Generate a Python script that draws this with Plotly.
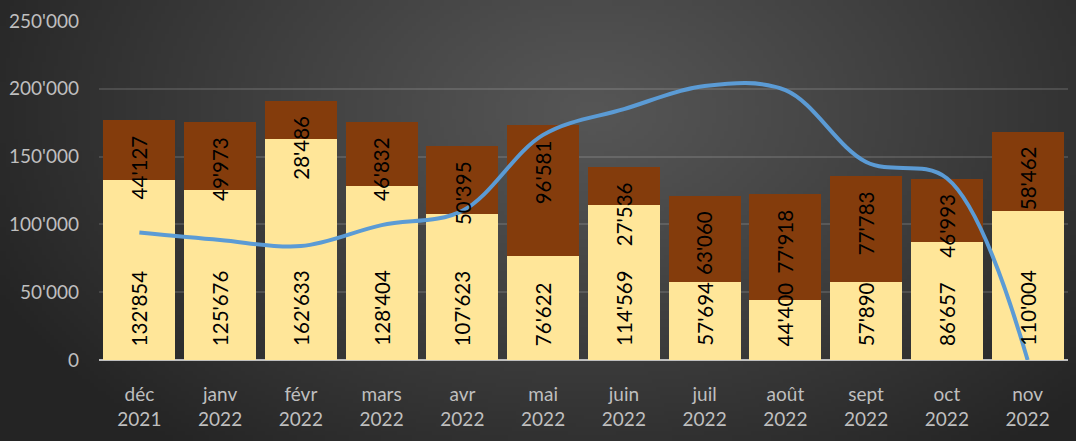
import base64, struct, zlib
import numpy as np
import plotly.graph_objects as go

# ---------------- data ----------------
months = ["déc", "janv", "févr", "mars", "avr", "mai", "juin", "juil", "août", "sept", "oct", "nov"]
years = ["2021", "2022", "2022", "2022", "2022", "2022", "2022", "2022", "2022", "2022", "2022", "2022"]
base_values = [132854, 125676, 162633, 128404, 107623, 76622, 114569, 57694, 44400, 57890, 86657, 110004]
top_values = [44127, 49973, 28486, 46832, 50395, 96581, 27536, 63060, 77918, 77783, 46993, 58462]
line_values = [94000, 88500, 84000, 99500, 110000, 166000, 185000, 202000, 199000, 146000, 134000, 0]
y_ticks = [0, 50000, 100000, 150000, 200000, 250000]

categories = [f"{m}<br>{y}" for m, y in zip(months, years)]

def fmt(v):
    return f"{v:,}".replace(",", "'")

# ---------------- layout geometry ----------------
W, H = 1076, 441
ML, MR, MT, MB = 99, 8, 21, 81
PW, PH = W - ML - MR, H - MT - MB

# ---------------- background gradient image ----------------
def make_png(w, h, pixels):
    raw = b"".join(b"\x00" + pixels[r].tobytes() for r in range(h))
    def chunk(t, d):
        c = struct.pack(">I", len(d)) + t + d
        return c + struct.pack(">I", zlib.crc32(t + d) & 0xffffffff)
    return (b"\x89PNG\r\n\x1a\n" + chunk(b"IHDR", struct.pack(">IIBBBBB", w, h, 8, 2, 0, 0, 0))
            + chunk(b"IDAT", zlib.compress(raw, 9)) + chunk(b"IEND", b""))

gw, gh = 270, 110
xx, yy = np.meshgrid(np.linspace(0, 1, gw), np.linspace(0, 1, gh))
r = np.sqrt(((xx - 0.55) / 0.62) ** 2 + ((yy - 0.25) / 1.0) ** 2)
r = np.clip(r, 0, 1)
c_in, c_out = 86, 36
val = (c_in + (c_out - c_in) * r ** 1.1).astype(np.uint8)
pix = np.stack([val, val, val], axis=-1)
bg_src = "data:image/png;base64," + base64.b64encode(make_png(gw, gh, pix)).decode()

# ---------------- figure ----------------
fig = go.Figure()
fig.add_trace(go.Bar(x=categories, y=base_values, marker=dict(color="#FFE699", line=dict(width=0)),
                     hoverinfo="skip"))
fig.add_trace(go.Bar(x=categories, y=top_values, marker=dict(color="#843C0C", line=dict(width=0)),
                     hoverinfo="skip"))
fig.add_trace(go.Scatter(x=categories, y=line_values, mode="lines",
                         line=dict(color="#5B9BD5", width=4, shape="spline", smoothing=1.0),
                         hoverinfo="skip"))

annotations = []
lab_font = dict(family="Lato, 'Open Sans', sans-serif", size=20.5, color="#000000")
for c, b, t in zip(categories, base_values, top_values):
    annotations.append(dict(x=c, y=0, xref="x", yref="y", text=fmt(b), textangle=-90,
                            showarrow=False, yanchor="bottom", xanchor="center", yshift=13,
                            borderpad=0, font=lab_font))
    annotations.append(dict(x=c, y=b + t, xref="x", yref="y", text=fmt(t), textangle=-90,
                            showarrow=False, yanchor="top", xanchor="center", yshift=-14,
                            borderpad=0, font=lab_font))

fig.update_layout(
    width=W, height=H,
    margin=dict(l=ML, r=MR, t=MT, b=MB),
    paper_bgcolor="#333333",
    plot_bgcolor="rgba(0,0,0,0)",
    barmode="stack",
    bargap=0.11,
    showlegend=False,
    separators=".'",
    font=dict(family="Lato, 'Open Sans', sans-serif", size=19, color="#BFBFBF"),
    annotations=annotations,
    images=[dict(source=bg_src, xref="paper", yref="paper",
                 x=-ML / PW, y=1 + MT / PH, sizex=W / PW, sizey=H / PH,
                 sizing="stretch", layer="below", xanchor="left", yanchor="top")],
    xaxis=dict(type="category", showgrid=False, showline=False, ticks="",
               tickfont=dict(size=19, color="#BFBFBF"), ticklabelstandoff=21),
    yaxis=dict(range=[0, 250000], tickvals=y_ticks, tickformat=",d",
               showgrid=True, gridcolor="rgba(255,255,255,0.13)", gridwidth=1.5,
               zeroline=True, zerolinecolor="#BFBFBF", zerolinewidth=1.5,
               showline=False, ticks="", tickfont=dict(size=19, color="#BFBFBF"),
               ticklabelstandoff=19),
)

fig.write_html("out.html", config={"displayModeBar": False},
               post_script="document.body.style.margin='0';document.body.style.background='#2a2a2a';")
